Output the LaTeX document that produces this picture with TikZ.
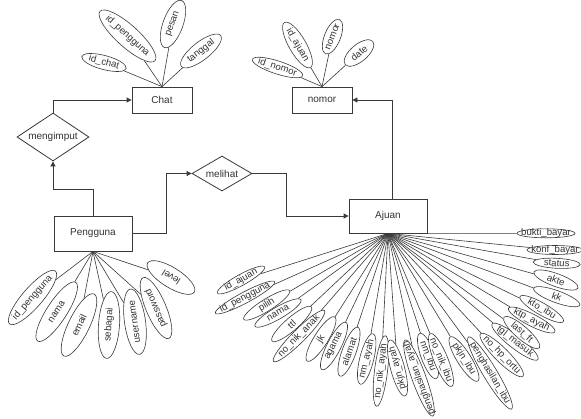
\documentclass[tikz,border=0pt]{standalone}
\usepackage{fontspec}
\setmainfont{Liberation Sans}
\usetikzlibrary{shapes.geometric,arrows.meta}
\pgfdeclarelayer{background}
\pgfsetlayers{background,main}
\definecolor{ln}{HTML}{3A3A3A}
\definecolor{tx}{HTML}{333333}
\newcommand{\attrE}[8]{%
  \node[attrshape, rotate=#4, minimum width=#5pt, minimum height=#6pt] (#1) at (#2,#3) {};
  \node[attrtext, rotate=#4] at (#1.center) {#7};
  \begin{pgfonlayer}{background}
    \draw[attrline] (#8) -- (#1);
  \end{pgfonlayer}%
}
\begin{document}
\begin{tikzpicture}[x=1pt,y=-1pt,
  entity/.style={draw=ln, line width=0.8pt, rectangle, inner sep=0pt, text=tx, font=\fontsize{10}{12}\selectfont},
  rel/.style={draw=ln, line width=0.8pt, diamond, aspect=1.5, inner sep=0pt, text=tx, font=\fontsize{10}{12}\selectfont},
  attrshape/.style={draw=ln, line width=0.6pt, ellipse, fill=white, inner sep=0pt},
  attrtext/.style={text=tx, inner sep=0pt, font=\fontsize{9.6}{11}\selectfont},
  attrline/.style={draw=ln, line width=0.6pt},
  arr/.style={draw=ln, line width=0.8pt, -{Triangle[length=5pt,width=5pt]}}]
\useasboundingbox (0,0) rectangle (581,418);
\begin{pgfonlayer}{background}
\fill[white] (0,0) rectangle (581,418);
\end{pgfonlayer}

% entities
\node[entity, minimum width=60pt, minimum height=26pt] (chat) at (162,100) {Chat};
\node[entity, minimum width=60pt, minimum height=26pt] (nomor) at (322,100) {nomor};
\node[entity, minimum width=78pt, minimum height=35pt] (pengguna) at (93,233.5) {Pengguna};
\node[entity, minimum width=78pt, minimum height=34pt] (ajuan) at (388,216) {Ajuan};

% relationships
\node[rel, minimum width=72pt, minimum height=48pt] (mengimput) at (53,137) {mengimput};
\node[rel, minimum width=60pt, minimum height=35pt] (melihat) at (222,173.5) {melihat};

% connectors
\draw[arr] (pengguna.north) -- ++(0,-26) -| (mengimput.south);
\draw[arr] (mengimput.north) |- (chat.west);
\draw[arr] (pengguna.east) -- ++(34,0) |- (melihat.west);
\draw[arr] (melihat.east) -- ++(34,0) |- (ajuan.west);
\draw[arr] ([xshift=4pt]ajuan.north) |- (nomor.east);

% Chat attributes
\attrE{c1}{104}{62.5}{-15}{46}{14}{id\_chat}{chat.north}
\attrE{c2}{127.5}{36}{-42}{74}{22}{id\_pengguna}{chat.north}
\attrE{c3}{173}{24}{70}{50}{20}{pesan}{chat.north}
\attrE{c4}{201}{51}{38}{50}{18}{tanggal}{chat.north}

% nomor attributes
\attrE{n1}{277.5}{67.5}{-18}{53}{13}{id\_nomor}{nomor.north}
\attrE{n2}{297.5}{45}{-60}{52}{17}{id\_ajuan}{nomor.north}
\attrE{n3}{332.5}{36.7}{68}{37}{16}{nomor}{nomor.north}
\attrE{n4}{359}{53}{40}{36}{17}{date}{nomor.north}

% Pengguna attributes
\attrE{p1}{32.5}{297.5}{49}{70}{20}{id\_pengguna}{pengguna.south}
\attrE{p2}{56.7}{311.7}{57}{70}{20}{nama}{pengguna.south}
\attrE{p3}{79}{325}{64}{69}{21}{email}{pengguna.south}
\attrE{p4}{109}{325}{86}{67}{21}{sebagai}{pengguna.south}
\attrE{p5}{135}{321.7}{98}{66}{21}{username}{pengguna.south}
\attrE{p6}{156}{308}{113}{66}{20}{password}{pengguna.south}
\attrE{p7}{171}{277.5}{148}{55}{20}{level}{pengguna.south}

% Ajuan attributes
\attrE{a1}{241}{280}{29}{54}{11}{id\_ajuan}{ajuan.south}
\attrE{a2}{245}{297.5}{28}{67}{11}{id\_pengguna}{ajuan.south}
\attrE{a3}{266.7}{305}{32}{54}{12}{pilih}{ajuan.south}
\attrE{a4}{278}{313}{30}{53}{12}{nama}{ajuan.south}
\attrE{a5}{291.7}{324}{41}{52}{13}{ttl}{ajuan.south}
\attrE{a6}{299}{336}{45}{72}{13}{no\_nik\_anak}{ajuan.south}
\attrE{a7}{321}{339}{58}{52}{14}{jk}{ajuan.south}
\attrE{a8}{334}{346}{63}{53}{14}{agama}{ajuan.south}
\attrE{a9}{349}{351.7}{70}{52}{14}{alamat}{ajuan.south}
\attrE{a10}{366.7}{359}{76}{52}{14}{nm\_ayah}{ajuan.south}
\attrE{a11}{381}{371}{83}{71}{13}{no\_nik\_ayah}{ajuan.south}
\attrE{a12}{397.5}{368}{105}{58}{14}{pkjn\_ayah}{ajuan.south}
\attrE{a13}{419}{378}{110}{81}{14}{penghasilan\_ayah}{ajuan.south}
\attrE{a14}{428}{356}{-70}{48}{14}{nm\_ibu}{ajuan.south}
\attrE{a15}{441}{360}{-68}{57}{14}{no\_nik\_ibu}{ajuan.south}
\attrE{a16}{464}{359}{-58}{52}{14}{pkjn\_ibu}{ajuan.south}
\attrE{a17}{490}{373}{-59}{84}{14}{penghasilan\_ibu}{ajuan.south}
\attrE{a18}{501.7}{355}{-45}{60}{14}{no\_hp\_ortu}{ajuan.south}
\attrE{a19}{515}{341.7}{-38}{58}{13}{tgl\_masuk}{ajuan.south}
\attrE{a20}{521.7}{332.5}{-41}{47}{13}{last\_ft}{ajuan.south}
\attrE{a21}{531.7}{320}{-27}{52}{12}{ktp\_ayah}{ajuan.south}
\attrE{a22}{541.7}{309}{-30}{50}{12}{kto\_ibu}{ajuan.south}
\attrE{a23}{556.7}{296.7}{-20}{49}{12}{kk}{ajuan.south}
\attrE{a24}{556}{280}{-20}{47}{13}{akte}{ajuan.south}
\attrE{a25}{556.7}{263.3}{-3}{47}{10}{status}{ajuan.south}
\attrE{a26}{555}{250}{0}{56}{9}{konf\_bayar}{ajuan.south}
\attrE{a27}{546}{233.3}{0}{58}{9}{bukti\_bayar}{ajuan.south}
\end{tikzpicture}
\end{document}
